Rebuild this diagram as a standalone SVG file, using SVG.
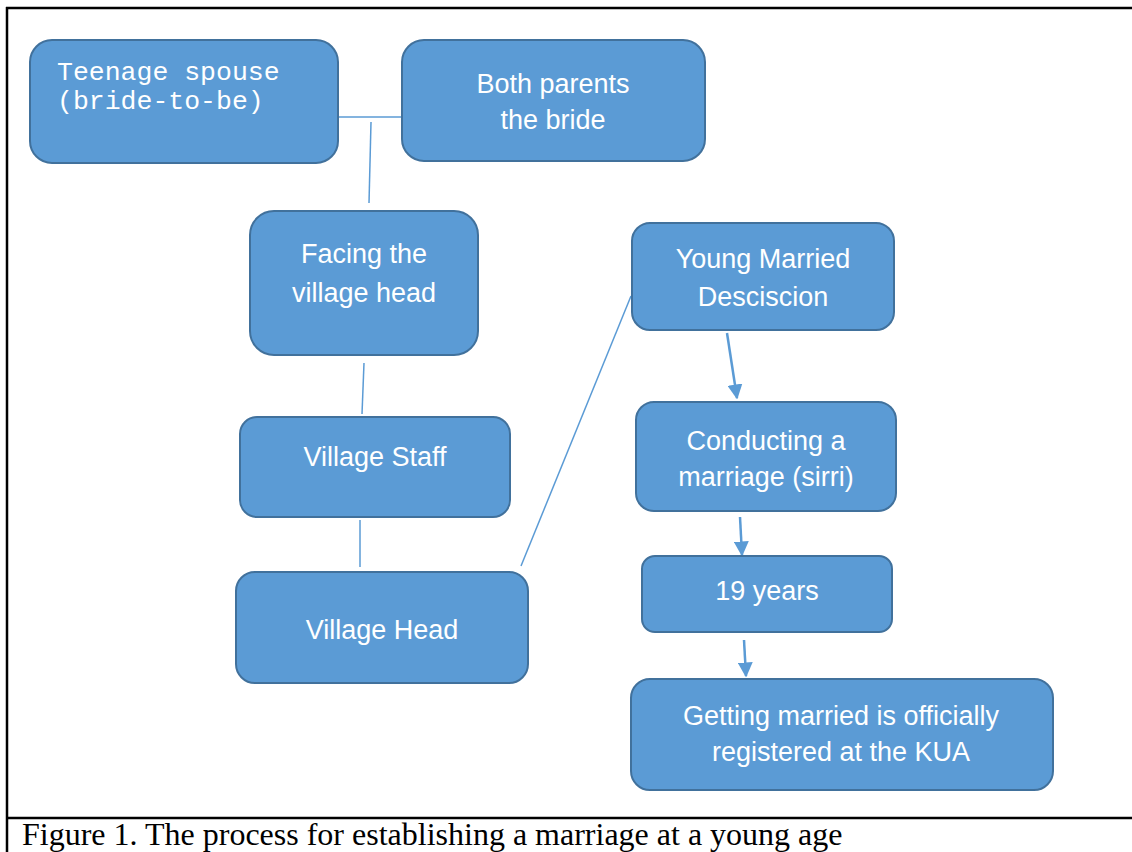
<svg xmlns="http://www.w3.org/2000/svg" width="1132" height="852" viewBox="0 0 1132 852">
<defs>
<style>
.box{fill:#5B9BD5;stroke:#41719C;stroke-width:2}
.t{font-family:"Liberation Sans",Arial,sans-serif;font-size:27px;fill:#fff;text-anchor:middle}
.mono{font-family:"Liberation Mono","Courier New",monospace;font-size:26.5px;fill:#fff}
.ln{stroke:#5B9BD5;stroke-width:1.5;fill:none}
.ar{stroke:#5B9BD5;stroke-width:2.5;fill:none;marker-end:url(#ah)}
.frame{stroke:#000;stroke-width:2.5;fill:none}
</style>
<marker id="ah" viewBox="0 0 10 10" refX="9" refY="5" markerWidth="6" markerHeight="6" markerUnits="strokeWidth" orient="auto">
<path d="M0,0 L10,5 L0,10 z" fill="#5B9BD5"/>
</marker>
</defs>
<rect width="1132" height="852" fill="#fff"/>
<g id="frame">
<line class="frame" x1="6" y1="8" x2="1132" y2="8"/>
<line class="frame" x1="7" y1="7" x2="7" y2="852"/>
<line class="frame" x1="6" y1="818" x2="1132" y2="818"/>
</g>
<g id="connectors">
<line class="ln" x1="338" y1="117" x2="401" y2="117"/>
<line class="ln" x1="371" y1="122" x2="369" y2="203"/>
<line class="ln" x1="364" y1="363" x2="362" y2="414"/>
<line class="ln" x1="360" y1="520" x2="360" y2="567"/>
<line class="ln" x1="521" y1="566" x2="631" y2="296"/>
<line class="ar" x1="727" y1="333" x2="737" y2="398"/>
<line class="ar" x1="740" y1="517" x2="742" y2="555"/>
<line class="ar" x1="744" y1="640" x2="746" y2="676"/>
</g>
<g id="n1"><rect class="box" x="30" y="40" width="308" height="123" rx="22"/>
<text class="mono" x="57" y="80">Teenage spouse</text><text class="mono" x="57" y="109">(bride-to-be)</text></g>
<g id="n2"><rect class="box" x="402" y="40" width="303" height="121" rx="22"/>
<text class="t" x="553" y="93">Both parents</text><text class="t" x="553" y="129">the bride</text></g>
<g id="n3"><rect class="box" x="250" y="211" width="228" height="144" rx="24"/>
<text class="t" x="364" y="263">Facing the</text><text class="t" x="364" y="302">village head</text></g>
<g id="n4"><rect class="box" x="240" y="417" width="270" height="100" rx="17"/>
<text class="t" x="375" y="466">Village Staff</text></g>
<g id="n5"><rect class="box" x="236" y="572" width="292" height="111" rx="19"/>
<text class="t" x="382" y="639">Village Head</text></g>
<g id="n6"><rect class="box" x="632" y="223" width="262" height="107" rx="18"/>
<text class="t" x="763" y="268">Young Married</text><text class="t" x="763" y="306">Desciscion</text></g>
<g id="n7"><rect class="box" x="636" y="402" width="260" height="109" rx="18"/>
<text class="t" x="766" y="450">Conducting a</text><text class="t" x="766" y="486">marriage (sirri)</text></g>
<g id="n8"><rect class="box" x="642" y="556" width="250" height="76" rx="13"/>
<text class="t" x="767" y="600">19 years</text></g>
<g id="n9"><rect class="box" x="631" y="679" width="422" height="111" rx="19"/>
<text class="t" x="841" y="725">Getting married is officially</text><text class="t" x="841" y="761">registered at the KUA</text></g>
<text x="22" y="845" font-family="'Liberation Serif','Times New Roman',serif" font-size="32" fill="#000">Figure 1. The process for establishing a marriage at a young age</text>
</svg>
